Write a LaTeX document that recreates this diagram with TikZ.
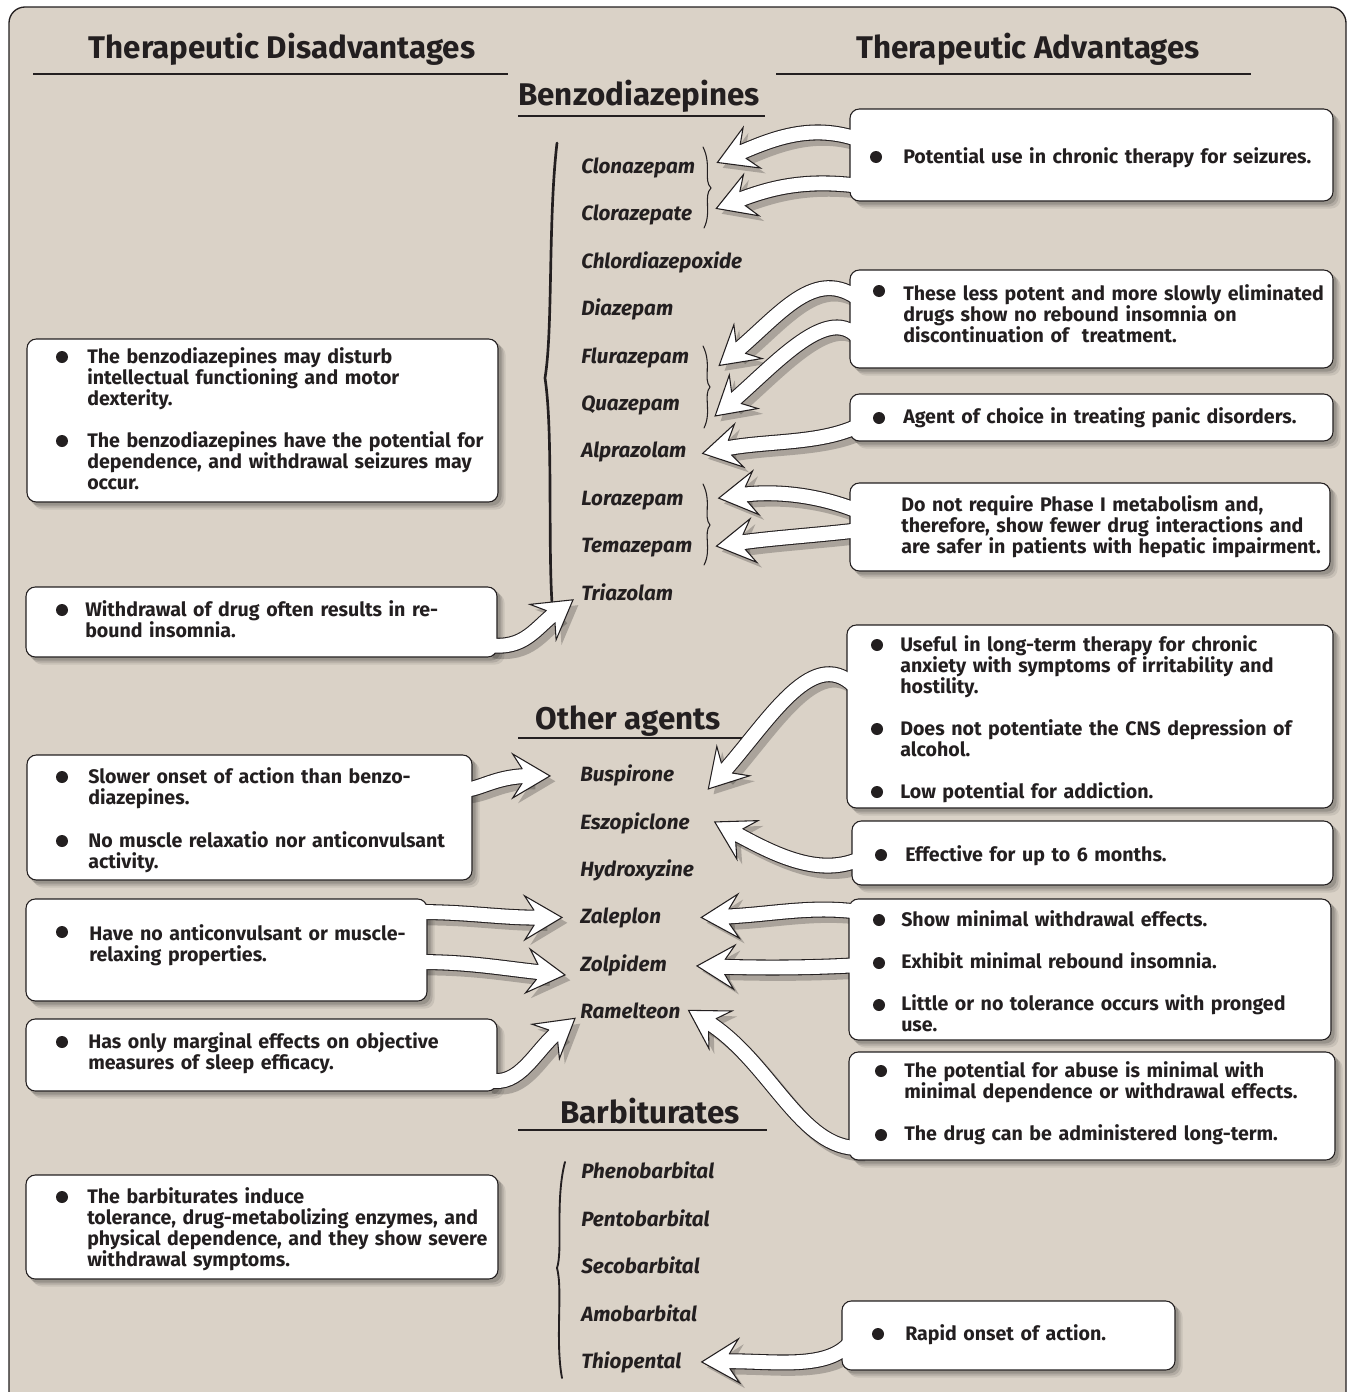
\documentclass[tikz,border=0pt]{standalone}
\usepackage{fontspec}
\setmainfont{Fira Sans}
\usetikzlibrary{calc,fit}
\definecolor{bgc}{HTML}{DAD2C7}
\definecolor{ink}{HTML}{231F20}
\pgfdeclarelayer{bgl}\pgfdeclarelayer{shadowl}\pgfdeclarelayer{outl}\pgfdeclarelayer{headl}\pgfdeclarelayer{innerl}
\pgfsetlayers{bgl,shadowl,outl,main,headl,innerl}
\tikzset{
  box/.style={draw=ink, fill=white, rounded corners=7pt, inner sep=0pt, line width=0.8pt},
  txt/.style={font=\bfseries\fontsize{14.7}{15.75}\selectfont, text=ink, align=left, text width=470pt, anchor=base west, inner sep=0pt},
  drug/.style={font=\bfseries\itshape\fontsize{15.5}{16}\selectfont, text=ink, anchor=base west, inner sep=0pt},
  head/.style={font=\bfseries\fontsize{23.5}{28}\selectfont, text=ink, anchor=base, inner sep=0pt},
  uline/.style={draw=ink, line width=2pt},
  brc/.style={draw=ink, line width=0.8pt, line cap=round},
  bigbrc/.style={draw=ink, line width=2pt, line cap=round},
}
\newcommand\fatarrow[4]{%
  \coordinate (fa-t) at #4;
  \coordinate (fa-c) at #3;
  \coordinate (fa-s) at ($(fa-t)!15pt!(fa-c)$);
  \coordinate (fa-b) at ($(fa-t)!28pt!(fa-c)$);
  \coordinate (fa-n) at ($(fa-t)!21pt!(fa-c)$);
  \coordinate (fa-bl) at ($(fa-b)!16.5pt!90:(fa-t)$);
  \coordinate (fa-br) at ($(fa-b)!16.5pt!-90:(fa-t)$);
  \coordinate (fa-nl) at ($(fa-n)!5.6pt!90:(fa-t)$);
  \coordinate (fa-nr) at ($(fa-n)!5.6pt!-90:(fa-t)$);
  \begin{pgfonlayer}{shadowl}
    \begin{scope}[transform canvas={xshift=4pt,yshift=-4pt}]
      \draw[black, opacity=0.22, line width=12pt] #1 .. controls #2 and #3 .. (fa-s);
      \fill[black, opacity=0.22] (fa-t) -- (fa-bl) -- (fa-nl) -- (fa-nr) -- (fa-br) -- cycle;
    \end{scope}
  \end{pgfonlayer}
  \begin{pgfonlayer}{outl}
    \draw[ink, line width=12pt] #1 .. controls #2 and #3 .. (fa-s);
  \end{pgfonlayer}
  \begin{pgfonlayer}{headl}
    \filldraw[fill=white, draw=ink, line width=0.8pt, line join=miter] (fa-t) -- (fa-bl) -- (fa-nl) -- (fa-nr) -- (fa-br) -- cycle;
  \end{pgfonlayer}
  \begin{pgfonlayer}{innerl}
    \draw[white, line width=10.4pt] #1 .. controls #2 and #3 .. (fa-s);
  \end{pgfonlayer}
}
\newcommand\boxshadow[1]{%
  \begin{pgfonlayer}{shadowl}
    \foreach \s/\o in {3/0.14,5/0.11,7/0.08}{%
      \fill[black, opacity=\o, rounded corners=7pt] ($(#1.south west)+(\s,\s)$) rectangle ($(#1.north east)+(\s,\s)$);
    }
  \end{pgfonlayer}
}
\begin{document}
\begin{tikzpicture}[x=0.75pt, y=-0.75pt]
\path[use as bounding box] (0,0) rectangle (1347,1392);
\begin{pgfonlayer}{bgl}
  \fill[white] (0,0) rectangle (1347,1392);
  \draw[fill=bgc, draw=ink, line width=1pt, rounded corners=12pt] (9,7) rectangle (1346,1420);
\end{pgfonlayer}

% headings
\node[head] (hdis) at (282,58) {Therapeutic Disadvantages};
\node[head] (hadv) at (1028,58) {Therapeutic Advantages};
\node[head] (hbenz) at (639,105) {Benzodiazepines};
\node[head] (hoth) at (628,729) {Other agents};
\node[head] (hbar) at (650,1123) {Barbiturates};
\draw[uline] (33,74) -- (508,74);
\draw[uline] (776,74) -- (1251,74);
\draw[uline] (518,116) -- (765,116);
\draw[uline] (518,738) -- (758,738);
\draw[uline] (518,1130) -- (767,1130);

% drugs
\node[drug] (clon) at (581,173) {Clonazepam};
\node[drug] (clor) at (581,220) {Clorazepate};
\node[drug] (chlor) at (581,268) {Chlordiazepoxide};
\node[drug] (diaz) at (581,315) {Diazepam};
\node[drug] (flur) at (581,363) {Flurazepam};
\node[drug] (quaz) at (581,410) {Quazepam};
\node[drug] (alpr) at (581,457) {Alprazolam};
\node[drug] (lora) at (581,505) {Lorazepam};
\node[drug] (tema) at (581,552) {Temazepam};
\node[drug] (tria) at (581,600) {Triazolam};
\node[drug] (busp) at (580,781) {Buspirone};
\node[drug] (eszo) at (580,829) {Eszopiclone};
\node[drug] (hydr) at (580,876) {Hydroxyzine};
\node[drug] (zale) at (580,923) {Zaleplon};
\node[drug] (zolp) at (580,971) {Zolpidem};
\node[drug] (rame) at (580,1018) {Ramelteon};
\node[drug] (phen) at (581,1178) {Phenobarbital};
\node[drug] (pent) at (581,1226) {Pentobarbital};
\node[drug] (seco) at (581,1273) {Secobarbital};
\node[drug] (amob) at (581,1321) {Amobarbital};
\node[drug] (thio) at (581,1368) {Thiopental};

% braces
\draw[bigbrc] (557,143) .. controls (548,220) and (553,330) .. (545,378) .. controls (553,430) and (548,540) .. (552,603);
\draw[draw=ink, line width=1.4pt, line cap=round] (565,1162) .. controls (555,1200) and (563,1250) .. (557,1268) .. controls (563,1290) and (555,1340) .. (562,1378);
\draw[brc] (703,147) .. controls (712,165) and (703,180) .. (711,188) .. controls (703,196) and (712,212) .. (704,228);
\draw[brc] (703,346) .. controls (712,364) and (703,379) .. (710,387) .. controls (703,395) and (712,412) .. (704,428);
\draw[brc] (703,484) .. controls (712,502) and (703,517) .. (710,525) .. controls (703,533) and (712,550) .. (704,565);

% boxes
\node[box, fit={(27,339) (498,502)}] (L1) {};
\node[box, fit={(26,587) (497,657)}] (L2) {};
\node[box, fit={(27,755) (472,880)}] (L3) {};
\node[box, fit={(26,899) (427,1001)}] (L4) {};
\node[box, fit={(26,1019) (497,1091)}] (L5) {};
\node[box, fit={(26,1175) (498,1279)}] (L6) {};
\node[box, fit={(850,109) (1333,201)}] (R1) {};
\node[box, fit={(850,270) (1333,368)}] (R2) {};
\node[box, fit={(850,394) (1333,441)}] (R3) {};
\node[box, fit={(850,483) (1330,571)}] (R4) {};
\node[box, fit={(847,625) (1333,808)}] (R5) {};
\node[box, fit={(852,821) (1333,885)}] (R6) {};
\node[box, fit={(849,899) (1331,1040)}] (R7) {};
\node[box, fit={(849,1052) (1335,1160)}] (R8) {};
\node[box, fit={(842,1301) (1175,1370)}] (R9) {};
\foreach \b in {L1,L2,L3,L4,L5,L6,R1,R2,R3,R4,R5,R6,R7,R8,R9}{\boxshadow{\b}}

% box texts
\node[txt] (tR1) at (903,163) {Potential use in chronic therapy for seizures.};
\node[txt] (tR2) at (903,300) {These less potent and more slowly eliminated\\drugs show no rebound insomnia on\\discontinuation of~ treatment.};
\node[txt] (tR3) at (903,423) {Agent of choice in treating panic disorders.};
\node[txt] (tR4) at (901,511) {Do not require Phase I metabolism and,\\therefore, show fewer drug interactions and\\are safer in patients with hepatic impairment.};
\node[txt] (tR5a) at (900,651) {Useful in long-term therapy for chronic\\anxiety with symptoms of irritability and\\hostility.};
\node[txt] (tR5b) at (900,735) {Does not potentiate the CNS depression of\\alcohol.};
\node[txt] (tR5c) at (900,798) {Low potential for addiction.};
\node[txt] (tR6) at (905,861) {Effective for up to 6 months.};
\node[txt] (tR7a) at (901,926) {Show minimal withdrawal effects.};
\node[txt] (tR7b) at (901,968) {Exhibit minimal rebound insomnia.};
\node[txt] (tR7c) at (901,1010) {Little or no tolerance occurs with pronged\\use.};
\node[txt] (tR8a) at (904,1077) {The potential for abuse is minimal with\\minimal dependence or withdrawal effects.};
\node[txt] (tR8b) at (904,1140) {The drug can be administered long-term.};
\node[txt] (tR9) at (905,1340) {Rapid onset of action.};
\node[txt] (tL1a) at (87,363) {The benzodiazepines may disturb\\intellectual functioning and motor\\dexterity.};
\node[txt] (tL1b) at (87,447) {The benzodiazepines have the potential for\\dependence, and withdrawal seizures may\\occur.};
\node[txt] (tL2) at (85,616) {Withdrawal of drug often results in re-\\bound insomnia.};
\node[txt] (tL3a) at (88,783) {Slower onset of action than benzo-\\diazepines.};
\node[txt] (tL3b) at (88,847) {No muscle relaxatio nor anticonvulsant\\activity.};
\node[txt] (tL4) at (89,940) {Have no anticonvulsant or muscle-\\relaxing properties.};
\node[txt] (tL5) at (88,1048) {Has only marginal effects on objective\\measures of sleep efficacy.};
\node[txt] (tL6) at (87,1203) {The barbiturates induce\\tolerance, drug-metabolizing enzymes, and\\physical dependence, and they show severe\\withdrawal symptoms.};

% bullets
\foreach \p in {(876,157),(879,291),(879,418),(877,645),(877,729),(877,792),(881,855),(879,920),(879,963),(879,1005),(881,1071),(881,1135),(878,1334),
  (62,357),(62,441),(62,610),(62,777),(62,841),(62,932),(62,1042),(62,1197)}{\fill[ink] \p circle (6);}

% arrows
\fatarrow{(860,140)}{(810,122)}{(770,140)}{($(clon.east)+(22,-5)$)}
\fatarrow{(860,186)}{(800,178)}{(765,190)}{($(clor.east)+(24,-6)$)}
\fatarrow{(860,300)}{(815,265)}{(780,315)}{($(flur.east)+(30,8)$)}
\fatarrow{(860,340)}{(830,300)}{(775,365)}{($(quaz.east)+(35,11)$)}
\fatarrow{(860,425)}{(820,445)}{(765,440)}{($(alpr.east)+(16,2)$)}
\fatarrow{(860,512)}{(820,495)}{(775,490)}{($(lora.east)+(35,-2)$)}
\fatarrow{(860,530)}{(820,535)}{(770,538)}{($(tema.east)+(24,-1)$)}
\fatarrow{(488,645)}{(525,650)}{(535,628)}{($(tria.west)+(-8,8)$)}
\fatarrow{(858,690)}{(815,640)}{(770,720)}{($(busp.east)+(34,14)$)}
\fatarrow{(462,790)}{(480,790)}{(495,776)}{($(busp.west)+(-30,1)$)}
\fatarrow{(862,858)}{(820,878)}{(775,855)}{($(eszo.east)+(25,-1)$)}
\fatarrow{(418,912)}{(470,912)}{(500,918)}{($(zale.west)+(-18,0)$)}
\fatarrow{(418,962)}{(470,962)}{(500,968)}{($(zolp.west)+(-15,10)$)}
\fatarrow{(860,912)}{(810,905)}{(770,915)}{($(zale.east)+(40,0)$)}
\fatarrow{(860,965)}{(810,968)}{(760,968)}{($(zolp.east)+(30,1)$)}
\fatarrow{(488,1080)}{(520,1088)}{(535,1050)}{($(rame.west)+(-5,8)$)}
\fatarrow{(860,1148)}{(800,1150)}{(770,1060)}{($(rame.east)+(8,0)$)}
\fatarrow{(852,1340)}{(830,1372)}{(770,1360)}{($(thio.east)+(20,0)$)}
\end{tikzpicture}
\end{document}
